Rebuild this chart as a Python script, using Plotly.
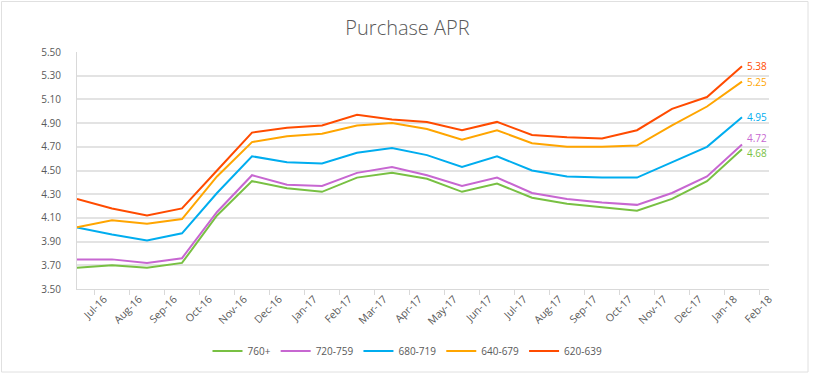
import plotly.graph_objects as go

months = ["Jul-16", "Aug-16", "Sep-16", "Oct-16", "Nov-16", "Dec-16", "Jan-17", "Feb-17",
          "Mar-17", "Apr-17", "May-17", "Jun-17", "Jul-17", "Aug-17", "Sep-17", "Oct-17",
          "Nov-17", "Dec-17", "Jan-18", "Feb-18"]

s760 = [3.68, 3.70, 3.68, 3.72, 4.12, 4.41, 4.35, 4.32, 4.44, 4.48,
        4.43, 4.32, 4.39, 4.27, 4.22, 4.19, 4.16, 4.26, 4.41, 4.68]
s720 = [3.75, 3.75, 3.72, 3.76, 4.15, 4.46, 4.38, 4.37, 4.48, 4.53,
        4.46, 4.37, 4.44, 4.31, 4.26, 4.23, 4.21, 4.31, 4.45, 4.72]
s680 = [4.02, 3.96, 3.91, 3.97, 4.31, 4.62, 4.57, 4.56, 4.65, 4.69,
        4.63, 4.53, 4.62, 4.50, 4.45, 4.44, 4.44, 4.57, 4.70, 4.95]
s640 = [4.02, 4.08, 4.05, 4.09, 4.45, 4.74, 4.79, 4.81, 4.88, 4.90,
        4.85, 4.76, 4.84, 4.73, 4.70, 4.70, 4.71, 4.88, 5.04, 5.25]
s620 = [4.26, 4.18, 4.12, 4.18, 4.50, 4.82, 4.86, 4.88, 4.97, 4.93,
        4.91, 4.84, 4.91, 4.80, 4.78, 4.77, 4.84, 5.02, 5.12, 5.38]

series_names = ["760+", "720-759", "680-719", "640-679", "620-639"]
series_values = [s760, s720, s680, s640, s620]
series_colors = ["#78c043", "#c767d1", "#00adef", "#ffa500", "#ff4b00"]
label_yshift = [-4, 6, 0, 0, 0]

FONT = "Open Sans"
GRAY = "#595959"

fig = go.Figure()
for name, vals, col in zip(series_names, series_values, series_colors):
    fig.add_trace(go.Scatter(x=months, y=vals, name=name, mode="lines",
                             line=dict(color=col, width=2)))

for vals, col, ys in zip(series_values, series_colors, label_yshift):
    fig.add_annotation(x=months[-1], y=vals[-1], text=f"{vals[-1]:.2f}",
                       xanchor="left", yanchor="middle", xshift=3, yshift=ys,
                       showarrow=False, font=dict(family=FONT, size=10, color=col))

fig.update_layout(
    width=815, height=375,
    margin=dict(l=77, r=46, t=52, b=86),
    paper_bgcolor="white", plot_bgcolor="white",
    font=dict(family=FONT, size=10, color=GRAY),
    title=dict(text="Purchase APR", x=0.5, xref="container", xanchor="center",
               y=0.925, yref="container", yanchor="middle",
               font=dict(family=FONT, size=20, color=GRAY, weight=300)),
    showlegend=True,
    legend=dict(orientation="h", xref="container", yref="container",
                x=0.5, xanchor="center", y=0.064, yanchor="middle",
                font=dict(family=FONT, size=10, color=GRAY),
                itemwidth=30, tracegroupgap=0, traceorder="normal"),
    xaxis=dict(type="category", tickson="boundaries", ticks="outside", ticklen=5,
               tickcolor="#d9d9d9", tickangle=-45, ticklabelshift=27,
               ticklabelstandoff=-1,
               showline=True, linecolor="#d9d9d9", linewidth=1,
               showgrid=False, zeroline=False, automargin=False,
               tickfont=dict(family=FONT, size=10.5, color=GRAY)),
    yaxis=dict(range=[3.5, 5.5], dtick=0.2, tick0=3.5, tickformat=".2f",
               showgrid=True, gridcolor="#e3e3e3", gridwidth=1.5,
               showline=True, linecolor="#d9d9d9", linewidth=1,
               zeroline=False, ticks="", ticklabelstandoff=13, automargin=False,
               tickfont=dict(family=FONT, size=10, color=GRAY)),
)

# light outer border of the chart frame
fig.add_shape(type="rect", xref="paper", yref="paper",
              x0=(1.5 - 77) / 692, x1=(808 - 77) / 692,
              y0=(289 - 372) / 237, y1=(289 - 1.5) / 237,
              line=dict(color="#e0e0e0", width=1), layer="below")

fig.write_html("out.html", config={"displayModeBar": False},
               post_script="document.body.style.margin='0px';")
